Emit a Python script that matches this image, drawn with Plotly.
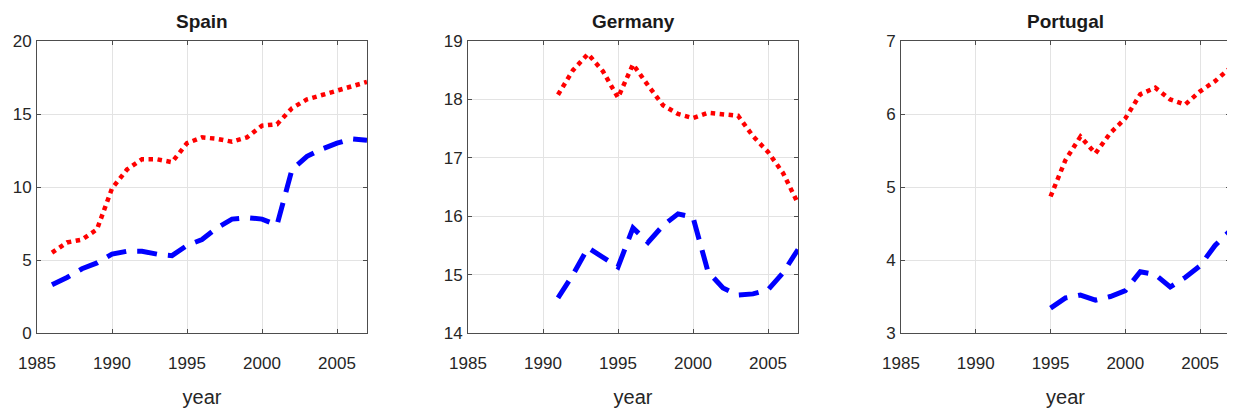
import plotly.graph_objects as go

# ---------------- data ----------------
spain_years = [1986, 1987, 1988, 1989, 1990, 1991, 1992, 1993, 1994, 1995, 1996,
               1997, 1998, 1999, 2000, 2001, 2002, 2003, 2004, 2005, 2006, 2007]
spain_red = [5.5, 6.2, 6.4, 7.1, 9.9, 11.2, 11.9, 11.9, 11.7, 13.0, 13.4,
             13.3, 13.1, 13.4, 14.2, 14.3, 15.4, 16.0, 16.3, 16.6, 16.9, 17.2]
spain_blue = [3.3, 3.8, 4.4, 4.8, 5.4, 5.6, 5.6, 5.4, 5.3, 6.0, 6.4,
              7.2, 7.8, 7.9, 7.8, 7.4, 11.2, 12.1, 12.6, 13.0, 13.3, 13.2]

germany_years = [1991, 1992, 1993, 1994, 1995, 1996, 1997, 1998, 1999,
                 2000, 2001, 2002, 2003, 2004, 2005, 2006, 2007]
germany_red = [18.08, 18.5, 18.78, 18.48, 18.03, 18.6, 18.24, 17.9, 17.75,
               17.68, 17.77, 17.75, 17.72, 17.37, 17.1, 16.74, 16.22]
germany_blue = [14.6, 15.0, 15.46, 15.3, 15.13, 15.8, 15.55, 15.84, 16.04,
                15.98, 15.05, 14.77, 14.65, 14.67, 14.74, 15.03, 15.43]

portugal_years = [1995, 1996, 1997, 1998, 1999, 2000, 2001, 2002, 2003,
                  2004, 2005, 2006, 2007]
portugal_red = [4.87, 5.37, 5.69, 5.46, 5.74, 5.94, 6.27, 6.36, 6.2,
                6.13, 6.31, 6.45, 6.63]
portugal_blue = [3.34, 3.48, 3.52, 3.45, 3.5, 3.58, 3.84, 3.8, 3.63,
                 3.76, 3.92, 4.2, 4.4]

panel_titles = ["Spain", "Germany", "Portugal"]
x_ticks = [1985, 1990, 1995, 2000, 2005]
y_ranges = [[0, 20], [14, 19], [3, 7]]
y_ticks = [[0, 5, 10, 15, 20], [14, 15, 16, 17, 18, 19], [3, 4, 5, 6, 7]]
x_label = "year"

# ---------------- figure ----------------
# page body has an 8px default margin, so the figure is drawn 8px in/down
OFF = 8
W, H = 1235 - OFF, 412 - OFF
ml, mt = 37 - OFF, 41 - OFF
mr = 5
mb = H - (333 - OFF)
pw = W - ml - mr
panel_px = [(37, 367), (468, 798), (901, 1230)]
domains = [[(a - OFF - ml) / pw, (b - OFF - ml) / pw] for a, b in panel_px]

FONT = "Liberation Sans, Arial, Helvetica, sans-serif"
RED = "#ff0000"
BLUE = "#0000ff"

fig = go.Figure()
series = [
    (spain_years, spain_red, spain_blue),
    (germany_years, germany_red, germany_blue),
    (portugal_years, portugal_red, portugal_blue),
]

for i, (yrs, red, blue) in enumerate(series):
    ax = "" if i == 0 else str(i + 1)
    fig.add_trace(go.Scatter(
        x=yrs, y=red, mode="lines", xaxis="x" + ax, yaxis="y" + ax,
        line=dict(color=RED, width=4.5, dash="dot"), showlegend=False,
        cliponaxis=True))
    fig.add_trace(go.Scatter(
        x=yrs, y=blue, mode="lines", xaxis="x" + ax, yaxis="y" + ax,
        line=dict(color=BLUE, width=5, dash="20px,11px"), showlegend=False,
        cliponaxis=True))

common_axis = dict(
    showline=True, linecolor="#4d4d4d", linewidth=1, mirror="ticks",
    ticks="inside", ticklen=4, tickcolor="#4d4d4d", tickwidth=1,
    showgrid=True, gridcolor="#e3e3e3", gridwidth=1, zeroline=False,
    automargin=False,
    tickfont=dict(family=FONT, size=17, color="#262626"),
)

layout = dict(
    width=W, height=H,
    margin=dict(l=ml, r=mr, t=mt, b=mb),
    paper_bgcolor="white", plot_bgcolor="white",
    showlegend=False,
    annotations=[],
)

for i in range(3):
    ax = "" if i == 0 else str(i + 1)
    layout["xaxis" + ax] = dict(
        common_axis, domain=domains[i], range=[1985, 2007],
        tickvals=x_ticks, ticktext=[str(v) for v in x_ticks],
        anchor="y" + ax, ticklabelstandoff=15,
        title=dict(text=x_label, font=dict(family=FONT, size=20, color="#262626"),
                   standoff=17),
    )
    layout["yaxis" + ax] = dict(
        common_axis, domain=[0, 1], range=y_ranges[i],
        tickvals=y_ticks[i], ticktext=[str(v) for v in y_ticks[i]],
        anchor="x" + ax, ticklabelstandoff=1,
    )
    layout["annotations"].append(dict(
        text="<b>" + panel_titles[i] + "</b>", xref="paper", yref="paper",
        x=(domains[i][0] + domains[i][1]) / 2, y=1, xanchor="center",
        yanchor="bottom", yshift=7, showarrow=False,
        font=dict(family=FONT, size=19, color="#1a1a1a"),
    ))

fig.update_layout(**layout)
fig.write_html("out.html")
